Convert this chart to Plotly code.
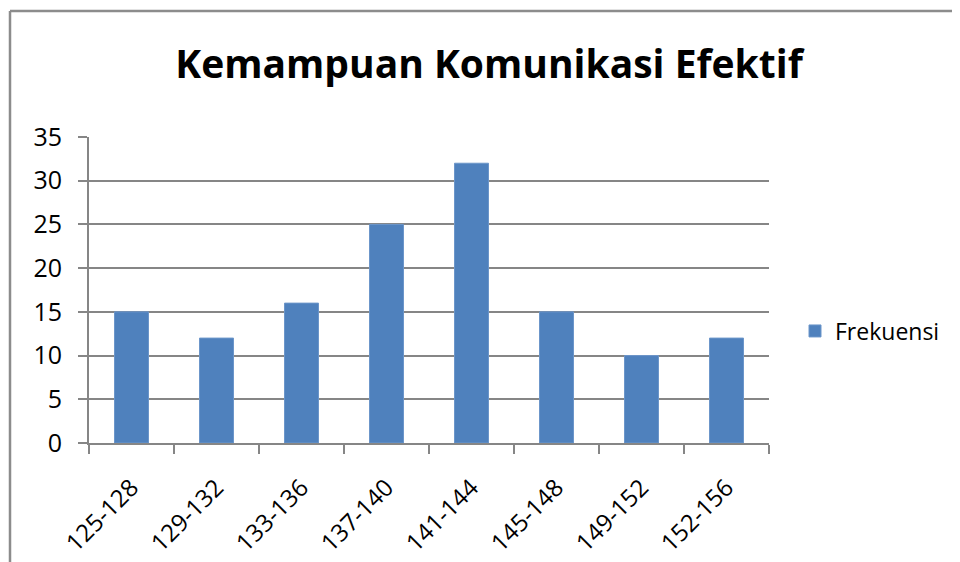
import plotly.graph_objects as go

categories = ["125-128", "129-132", "133-136", "137-140", "141-144", "145-148", "149-152", "152-156"]
frekuensi = [15, 12, 16, 25, 32, 15, 10, 12]
y_ticks = [0, 5, 10, 15, 20, 25, 30, 35]

FONT = "Open Sans"
GRID = "#868686"

fig = go.Figure()
fig.add_trace(go.Bar(
    x=categories, y=frekuensi, name="Frekuensi",
    marker=dict(color="#4F81BD", line=dict(color="#6C96CA", width=1)),
    showlegend=True,
))

# page body has an 8px margin; figure coordinates = screen coordinates - 8
OFF = 8
W, H = 960, 562
L = 89 - OFF
T = 137 - OFF
R = W - (769 - OFF)
B = H - (443 - OFF)
pw, ph = W - L - R, H - T - B

def px(xs):
    return (xs - OFF - L) / pw

def py(ys):
    return (H - B - (ys - OFF)) / ph

fig.update_layout(
    width=W, height=H,
    margin=dict(l=L, r=R, t=T, b=B, pad=0),
    paper_bgcolor="white", plot_bgcolor="white",
    bargap=0.6,
    font=dict(family=FONT, color="black", size=22),
    title=dict(text="<b>Kemampuan Komunikasi Efektif</b>", x=(489 - OFF) / W, xanchor="center",
               y=1 - (64 - OFF) / H, yanchor="middle", font=dict(family=FONT, size=39, color="black")),
    legend=dict(x=px(795), xanchor="left", y=py(331), yanchor="middle",
                font=dict(family=FONT, size=23), bgcolor="rgba(0,0,0,0)",
                itemwidth=30, tracegroupgap=0),
    xaxis=dict(type="category", showline=True, linecolor=GRID, linewidth=2,
               ticks="outside", ticklen=9, tickcolor=GRID, tickwidth=2,
               tickson="boundaries", tickangle=-45, showgrid=False,
               tickfont=dict(size=24), ticklabelstandoff=19),
    yaxis=dict(range=[0, 35], tickvals=y_ticks, showline=True, linecolor=GRID, linewidth=2,
               ticks="outside", ticklen=9, tickcolor=GRID, tickwidth=2,
               showgrid=True, gridcolor=GRID, gridwidth=1.5, zeroline=False,
               tickfont=dict(size=25), ticklabelstandoff=11),
    shapes=[
        dict(type="line", xref="paper", yref="paper",
             x0=px(10), x1=px(10), y0=py(11), y1=py(700),
             line=dict(color="#8C8C8C", width=2.5)),
        dict(type="line", xref="paper", yref="paper",
             x0=px(10), x1=px(1100), y0=py(11), y1=py(11),
             line=dict(color="#8C8C8C", width=2.5)),
    ],
)

fig.write_html("out.html")
